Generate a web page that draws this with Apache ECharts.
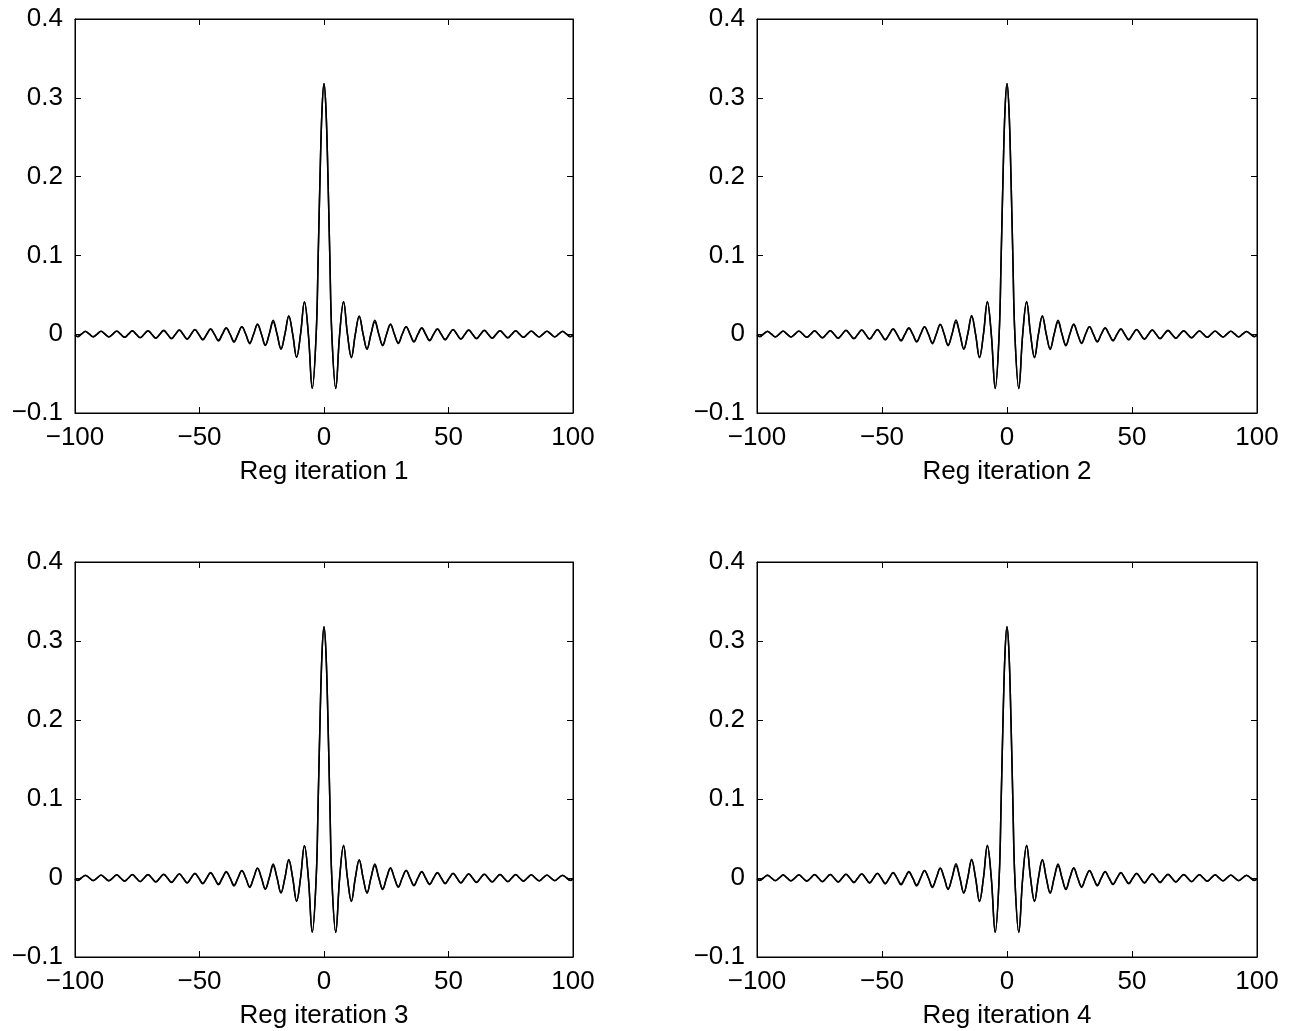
<!DOCTYPE html>
<html>
<head>
<meta charset="utf-8">
<script src="https://cdn.jsdelivr.net/npm/echarts@6/dist/echarts.min.js"></script>
<style>
html,body{margin:0;padding:0;background:#fff;}
#chart{width:1303px;height:1031px;}
</style>
</head>
<body>
<div id="chart"></div>
<script>
// x sample positions (shared by all curves)
var xs = [-100, -98.96, -97.39, -95.82, -94.25, -92.68, -91.11, -89.54, -87.96, -86.39, -84.82, -83.25, -81.68, -80.11, -78.54, -76.97, -75.40, -73.83, -72.26, -70.69, -69.12, -67.54, -65.97, -64.40, -62.83, -61.26, -59.69, -58.12, -56.55, -54.98, -53.41, -51.84, -50.27, -48.69, -47.12, -45.55, -43.98, -42.41, -40.84, -39.27, -37.70, -36.13, -34.56, -32.99, -31.42, -29.85, -28.27, -26.70, -25.13, -23.56, -21.99, -20.42, -18.85, -17.28, -15.71, -14.14, -12.57, -11.00, -9.42, -7.85, -6.28, -4.71, -3.14, -2.36, -1.57, -0.79,
  0,
  0.79, 1.57, 2.36, 3.14, 4.71, 6.28, 7.85, 9.42, 11.00, 12.57, 14.14, 15.71, 17.28, 18.85, 20.42, 21.99, 23.56, 25.13, 26.70, 28.27, 29.85, 31.42, 32.99, 34.56, 36.13, 37.70, 39.27, 40.84, 42.41, 43.98, 45.55, 47.12, 48.69, 50.27, 51.84, 53.41, 54.98, 56.55, 58.12, 59.69, 61.26, 62.83, 64.40, 65.97, 67.54, 69.12, 70.69, 72.26, 73.83, 75.40, 76.97, 78.54, 80.11, 81.68, 83.25, 84.82, 86.39, 87.96, 89.54, 91.11, 92.68, 94.25, 95.82, 97.39, 98.96, 100];

// true response
var trueResponse = [-0.0016, -0.0032, 0, 0.0033, 0, -0.0034, 0, 0.0036, 0, -0.0037, 0, 0.0038, 0, -0.0040, 0, 0.0041, 0, -0.0043, 0, 0.0045, 0, -0.0047, 0, 0.0049, 0, -0.0052, 0, 0.0055, 0, -0.0058, 0, 0.0061, 0, -0.0065, 0, 0.0070, 0, -0.0075, 0, 0.0081, 0, -0.0088, 0, 0.0096, 0, -0.0107, 0, 0.0119, 0, -0.0135, 0, 0.0156, 0, -0.0184, 0, 0.0225, 0, -0.0290, 0, 0.0408, 0, -0.0685, 0, 0.0950, 0.2026, 0.2853,
  0.3183,
  0.2853, 0.2026, 0.0950, 0, -0.0685, 0, 0.0408, 0, -0.0290, 0, 0.0225, 0, -0.0184, 0, 0.0156, 0, -0.0135, 0, 0.0119, 0, -0.0107, 0, 0.0096, 0, -0.0088, 0, 0.0081, 0, -0.0075, 0, 0.0070, 0, -0.0065, 0, 0.0061, 0, -0.0058, 0, 0.0055, 0, -0.0052, 0, 0.0049, 0, -0.0047, 0, 0.0045, 0, -0.0043, 0, 0.0041, 0, -0.0040, 0, 0.0038, 0, -0.0037, 0, 0.0036, 0, -0.0034, 0, 0.0033, 0, -0.0032, -0.0016];

// regularised estimate (iterations 1 and 3)
var regEstimateA = [-0.0010, -0.0028, 0.0004, 0.0036, 0.0003, -0.0030, 0.0002, 0.0039, 0.0002, -0.0033, 0.0001, 0.0041, 0, -0.0037, 0, 0.0043, -0.0002, -0.0046, -0.0002, 0.0042, -0.0003, -0.0052, -0.0003, 0.0045, -0.0004, -0.0058, -0.0004, 0.0050, -0.0004, -0.0066, -0.0004, 0.0055, -0.0005, -0.0074, -0.0005, 0.0063, -0.0005, -0.0086, -0.0004, 0.0074, -0.0003, -0.0101, -0.0002, 0.0093, 0, -0.0120, 0.0002, 0.0128, 0.0003, -0.0143, 0.0003, 0.0178, 0.0002, -0.0190, 0, 0.0234, -0.0002, -0.0296, 0, 0.0412, 0, -0.0688, 0, 0.0952, 0.2024, 0.2850,
  0.3180,
  0.2850, 0.2024, 0.0952, 0, -0.0690, 0, 0.0414, 0, -0.0298, -0.0002, 0.0232, 0.0001, -0.0192, 0.0002, 0.0176, 0.0003, -0.0146, 0.0002, 0.0131, 0.0001, -0.0118, 0, 0.0094, -0.0002, -0.0099, -0.0003, 0.0076, -0.0004, -0.0084, -0.0004, 0.0064, -0.0005, -0.0073, -0.0005, 0.0056, -0.0004, -0.0065, -0.0004, 0.0051, -0.0004, -0.0058, -0.0003, 0.0046, -0.0003, -0.0052, -0.0002, 0.0043, -0.0002, -0.0047, 0, 0.0043, 0, -0.0038, 0.0001, 0.0041, 0.0002, -0.0034, 0.0002, 0.0039, 0.0003, -0.0031, 0.0003, 0.0036, 0.0004, -0.0029, -0.0011];

// regularised estimate (iterations 2 and 4)
var regEstimateB = [-0.0011, -0.0027, 0.0004, 0.0037, 0.0003, -0.0031, 0.0002, 0.0040, 0.0001, -0.0034, 0.0001, 0.0042, 0, -0.0036, -0.0001, 0.0044, -0.0002, -0.0047, -0.0002, 0.0043, -0.0003, -0.0053, -0.0003, 0.0046, -0.0004, -0.0059, -0.0004, 0.0051, -0.0004, -0.0065, -0.0005, 0.0056, -0.0005, -0.0075, -0.0005, 0.0062, -0.0004, -0.0087, -0.0004, 0.0073, -0.0003, -0.0100, -0.0002, 0.0092, 0, -0.0121, 0.0002, 0.0127, 0.0003, -0.0145, 0.0003, 0.0180, 0.0002, -0.0192, 0, 0.0236, -0.0002, -0.0298, 0, 0.0414, 0, -0.0690, 0, 0.0951, 0.2025, 0.2851,
  0.3181,
  0.2851, 0.2025, 0.0951, 0, -0.0691, 0, 0.0415, 0, -0.0299, -0.0002, 0.0233, 0.0001, -0.0193, 0.0002, 0.0177, 0.0003, -0.0147, 0.0002, 0.0130, 0.0001, -0.0119, 0, 0.0093, -0.0002, -0.0100, -0.0003, 0.0075, -0.0004, -0.0085, -0.0004, 0.0063, -0.0005, -0.0074, -0.0005, 0.0055, -0.0004, -0.0066, -0.0004, 0.0050, -0.0004, -0.0059, -0.0003, 0.0045, -0.0003, -0.0053, -0.0002, 0.0042, -0.0002, -0.0048, 0, 0.0042, 0, -0.0039, 0.0001, 0.0040, 0.0002, -0.0035, 0.0002, 0.0038, 0.0003, -0.0032, 0.0003, 0.0035, 0.0004, -0.0028, -0.0010];

var panelTitles = ['Reg iteration 1', 'Reg iteration 2', 'Reg iteration 3', 'Reg iteration 4'];
var panelEstimates = [regEstimateA, regEstimateB, regEstimateA, regEstimateB];
var xTicks = [-100, -50, 0, 50, 100];
var yTicks = [-0.1, 0, 0.1, 0.2, 0.3, 0.4];

var FONT = '"Liberation Sans", Arial, Helvetica, sans-serif';
var FS = 26;
function fmt(v, d) {
  if (Math.abs(v) < 1e-9) return '0';
  var s = d ? v.toFixed(d) : String(Math.round(v));
  return s.replace('-', '\u2212');
}
function zip(a, b) { return a.map(function (x, i) { return [x, b[i]]; }); }

var grids = [
  {left: 75, top: 19, width: 498, height: 394},
  {left: 757, top: 19, width: 500, height: 394},
  {left: 75, top: 562, width: 498, height: 395},
  {left: 757, top: 562, width: 500, height: 395}
];

var option = {
  animation: false,
  backgroundColor: '#fff',
  textStyle: {fontFamily: FONT},
  grid: grids.map(function (g) {
    return Object.assign({show: true, borderColor: '#000', borderWidth: 1, backgroundColor: '#fff', containLabel: false}, g);
  }),
  xAxis: [], yAxis: [], series: []
};

grids.forEach(function (g, i) {
  var common = {
    gridIndex: i, type: 'value',
    min: xTicks[0], max: xTicks[xTicks.length - 1], interval: 50,
    axisLine: {show: true, onZero: false, lineStyle: {color: '#000', width: 1}},
    axisTick: {show: true, inside: true, length: 6, lineStyle: {color: '#000', width: 1}},
    splitLine: {show: false}
  };
  option.xAxis.push(Object.assign({}, common, {
    position: 'bottom',
    axisLabel: {show: true, color: '#000', fontSize: FS, fontFamily: FONT, margin: 12,
      formatter: function (v) { return fmt(v, 0); }},
    name: panelTitles[i], nameLocation: 'middle', nameGap: 46,
    nameTextStyle: {color: '#000', fontSize: FS, fontFamily: FONT}
  }));
  option.xAxis.push(Object.assign({}, common, {
    position: 'top', axisLabel: {show: false}
  }));
  var ycommon = {
    gridIndex: i, type: 'value',
    min: yTicks[0], max: yTicks[yTicks.length - 1], interval: 0.1,
    axisLine: {show: true, onZero: false, lineStyle: {color: '#000', width: 1}},
    axisTick: {show: true, inside: true, length: 6, lineStyle: {color: '#000', width: 1}},
    splitLine: {show: false}
  };
  option.yAxis.push(Object.assign({}, ycommon, {
    position: 'left',
    axisLabel: {show: true, color: '#000', fontSize: FS, fontFamily: FONT, margin: 12,
      formatter: function (v) { return fmt(v, 1); }}
  }));
  option.yAxis.push(Object.assign({}, ycommon, {
    position: 'right', axisLabel: {show: false}
  }));

  var base = {
    type: 'line', xAxisIndex: i * 2, yAxisIndex: i * 2,
    symbol: 'none', smooth: 0.4, clip: true,
    lineStyle: {color: '#000', width: 1.5}
  };
  option.series.push(Object.assign({}, base, {data: zip(xs, trueResponse)}));
  option.series.push(Object.assign({}, base, {data: zip(xs, panelEstimates[i])}));
});

var chart = echarts.init(document.getElementById('chart'), null, {renderer: 'canvas'});
chart.setOption(option);
</script>
</body>
</html>
